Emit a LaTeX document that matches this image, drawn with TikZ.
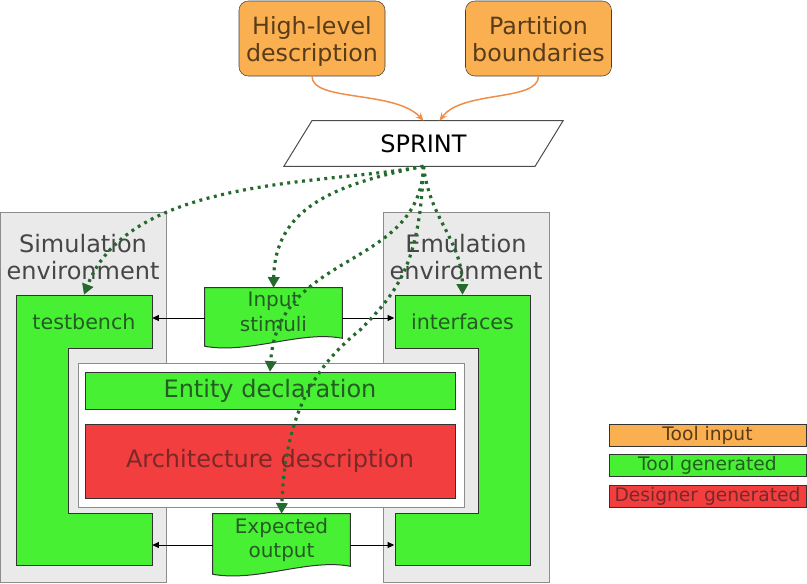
\documentclass[tikz,border=0pt]{standalone}
\usepackage{fontspec}
\setmainfont{DejaVu Sans}
\usepackage{xcolor}
\usepackage{tikz}
\usetikzlibrary{arrows.meta,positioning,calc}
\definecolor{inputorange}{RGB}{250,176,80}
\definecolor{gengreen}{RGB}{72,240,52}
\definecolor{desred}{RGB}{242,62,62}
\definecolor{envgray}{RGB}{234,234,234}
\definecolor{dotgreen}{RGB}{36,106,44}
\definecolor{feedorange}{RGB}{240,140,70}
\definecolor{orangetext}{RGB}{88,60,25}
\definecolor{greentext}{RGB}{36,92,36}
\definecolor{redtext}{RGB}{122,40,40}
\definecolor{graytext}{RGB}{70,70,70}
\newcommand{\fsz}[1]{\fontsize{#1}{1.2\dimexpr#1pt\relax}\selectfont}

\begin{document}
\begin{tikzpicture}[x=0.75pt, y=-0.75pt, >=Stealth, font=\fsz{17}]
  \tikzset{
    srcbox/.style={draw=black!75, fill=inputorange, text=orangetext, rounded corners=7pt, minimum width=109.5pt, minimum height=56.25pt, text depth=0pt, align=center, font=\fontsize{17.8}{20.25}\selectfont},
    envbox/.style={draw=black!45, fill=envgray, line width=0.75pt},
    envlabel/.style={text=graytext, align=center, font=\fontsize{18}{20.25}\selectfont},
    genbox/.style={draw=black!80, fill=gengreen, line width=0.75pt},
    armbox/.style={minimum width=102pt, minimum height=39.75pt, text=greentext, font=\fsz{15.5}},
    docbox/.style={minimum width=102.75pt, inner sep=0pt},
    doctext/.style={text=greentext, align=center, font=\fontsize{15}{18.5}\selectfont},
    genblk/.style={draw=black!80, fill=gengreen, text=greentext, minimum width=277.5pt, minimum height=27.75pt, font=\fsz{18}},
    desblk/.style={draw=black!80, fill=desred, text=redtext, minimum width=277.5pt, minimum height=55.5pt, font=\fsz{18}},
    legbox/.style={draw=black!80, minimum width=147.75pt, minimum height=16.5pt, inner sep=0pt, font=\fsz{14}},
    dotarrow/.style={draw=dotgreen, line width=2.4pt, dash pattern=on 2.2pt off 3.4pt, -{Triangle[length=8pt,width=8.5pt]}},
    feedarrow/.style={draw=feedorange, line width=1.1pt, -{Stealth[length=6pt,width=5pt]}},
    linkarrow/.style={draw=black, line width=0.75pt, >={Triangle[length=5pt,width=4.5pt]}}
  }
  \useasboundingbox (0,0) rectangle (807,583);
  % tool inputs
  \node[srcbox] (hld) at (312,38.5) {High-level\\description};
  \node[srcbox] (pbd) at (538.5,38.5) {Partition\\boundaries};
  \node[minimum width=188pt, minimum height=33.75pt, font=\fsz{18}] (sprint) at (423.5,143.5) {SPRINT};
  \draw[black!70, line width=0.75pt] ($(sprint.south west)+(-14,0)$) -- ($(sprint.north west)+(14,0)$) -- ($(sprint.north east)+(14,0)$) -- ($(sprint.south east)+(-14,0)$) -- cycle;
  \draw[feedarrow] (hld.south) .. controls (312,102) and (395,90) .. (sprint.north);
  \draw[feedarrow] (pbd.south) .. controls (538,102) and (462,90) .. ([xshift=12pt]sprint.north);
  % environments
  \draw[envbox] (0,212) rectangle (166,582);
  \draw[envbox] (383,212) rectangle (549,582);
  \node[envlabel] (simlbl) at (83,257) {Simulation\\environment};
  \node[envlabel] (emulbl) at (466,257) {Emulation\\environment};
  \draw[genbox] (16,295) -- (152,295) -- (152,348) -- (68,348) -- (68,513) -- (152,513) -- (152,565) -- (16,565) -- cycle;
  \draw[genbox] (395,295) -- (530,295) -- (530,565) -- (395,565) -- (395,513) -- (478,513) -- (478,348) -- (395,348) -- cycle;
  \node[armbox] (tbtop) at (84,321.5) {testbench};
  \node[armbox] (iftop) at (462.5,321.5) {interfaces};
  % design under test
  \draw[draw=black!45, fill=white, line width=0.75pt] (78,363) rectangle (464,507);
  \node[genblk] (ent) at (270,390.5) {Entity declaration};
  \node[desblk] (arch) at (270,461) {Architecture description};
  % stimuli and expected output
  \node[docbox, minimum height=45pt] (inp) at (273.5,318) {};
  \draw[genbox] (inp.north west) -- (inp.north east) -- ($(inp.south east)+(0,-10)$) .. controls ($(inp.south east)+(-42,-18)$) and ($(inp.south west)+(45,6)$) .. ($(inp.south west)+(0,-2)$) -- cycle;
  \node[doctext] (inptxt) at (273.5,312) {Input\\stimuli};
  \node[docbox, minimum height=46.5pt] (exp) at (281.5,545) {};
  \draw[genbox] (exp.north west) -- (exp.north east) -- ($(exp.south east)+(0,-10)$) .. controls ($(exp.south east)+(-42,-18)$) and ($(exp.south west)+(45,6)$) .. ($(exp.south west)+(0,-2)$) -- cycle;
  \node[doctext] (exptxt) at (281.5,540) {Expected\\output};
  \draw[linkarrow, ->] (inp.west) -- (inp.west -| tbtop.east);
  \draw[linkarrow, ->] (inp.east) -- (inp.east -| iftop.west);
  \draw[linkarrow, ->] (exp.west) -- (exp.west -| tbtop.east);
  \draw[linkarrow, ->] (exp.east) -- (exp.east -| iftop.west);
  % generated by SPRINT
  \draw[dotarrow] (sprint.south) .. controls (330,185) and (130,175) .. (tbtop.north);
  \draw[dotarrow] (sprint.south) .. controls (330,185) and (275,210) .. (inp.north);
  \draw[dotarrow] (sprint.south) .. controls (420,270) and (278,250) .. (ent.north);
  \draw[dotarrow] (sprint.south) .. controls (420,260) and (400,290) .. (360,330) .. controls (310,370) and (285,420) .. (exp.north);
  \draw[dotarrow] (sprint.south) .. controls (430,220) and (462,240) .. (iftop.north);
  % legend
  \node[legbox, fill=inputorange, text=orangetext] (leginp) at (707.5,435) {Tool input};
  \node[legbox, fill=gengreen, text=greentext, below=6pt of leginp] (leggen) {Tool generated};
  \node[legbox, fill=desred, text=redtext, below=6pt of leggen] (legdes) {Designer generated};
\end{tikzpicture}
\end{document}
